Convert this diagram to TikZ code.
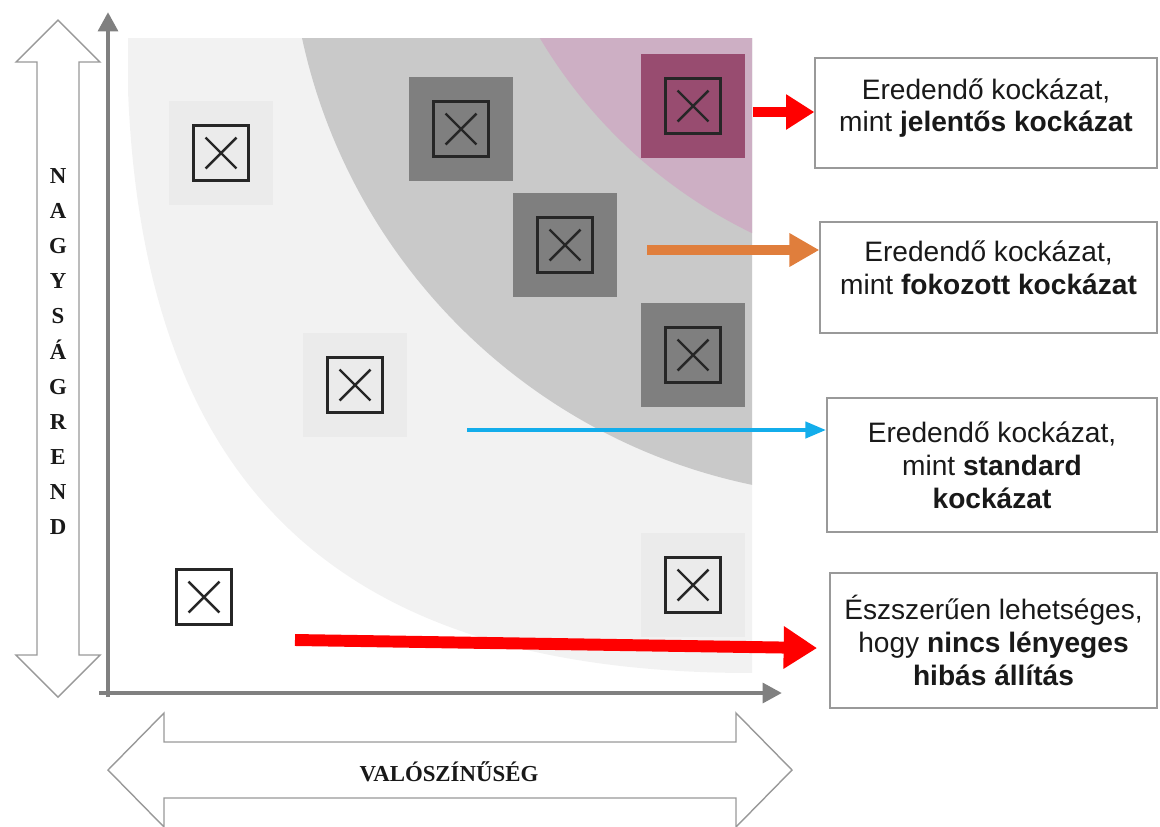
\documentclass[tikz,border=0pt]{standalone}
\usepackage{fontspec}
\setmainfont{Liberation Sans}
\newfontfamily\axisfont{Liberation Serif}
\usetikzlibrary{arrows.meta, calc, positioning}

\definecolor{zonelight}{HTML}{F2F2F2}
\definecolor{zonemid}{HTML}{C9C9C9}
\definecolor{zonepink}{HTML}{CDAFC4}
\definecolor{celllight}{HTML}{EBEBEB}
\definecolor{celldark}{HTML}{7F7F7F}
\definecolor{cellpink}{HTML}{984C70}
\definecolor{axisgray}{HTML}{808080}
\definecolor{arrowred}{HTML}{FF0000}
\definecolor{arroworange}{HTML}{E07E3C}
\definecolor{arrowblue}{HTML}{13ADEB}

\begin{document}
\begin{tikzpicture}[
    x=0.02cm, y=-0.02cm,
    cell/.style={rectangle, minimum size=2.07cm, inner sep=0pt},
    xicon/.style={rectangle, draw=black!85, line width=1.6pt, minimum size=1.1cm, inner sep=0pt,
        path picture={\draw[line width=1.4pt, black!85]
            ($(path picture bounding box.north west)!0.22!(path picture bounding box.south east)$) --
            ($(path picture bounding box.north west)!0.78!(path picture bounding box.south east)$)
            ($(path picture bounding box.north east)!0.22!(path picture bounding box.south west)$) --
            ($(path picture bounding box.north east)!0.78!(path picture bounding box.south west)$);}},
    riskbox/.style={rectangle, draw=black!40, line width=0.8pt, inner sep=0pt},
    risktext/.style={align=center, font=\fontsize{16}{18.7}\selectfont, text=black!90, inner sep=0pt},
    axisline/.style={draw=axisgray, line width=2.8pt, -{Triangle[length=11pt, width=11pt]}},
    bigarrow/.style={fill=white, draw=black!40, line width=0.8pt},
    axislabel/.style={font=\axisfont\bfseries\fontsize{13}{20}\selectfont, text=black!90, inner sep=0pt, align=center}
]

% page size
\useasboundingbox (0,0) rectangle (1160,826);

% ==================== RISK ZONES ====================
\begin{scope}
    \clip (128,38) rectangle (752,672);
    \fill[zonelight] (752,38) -- (127,38) .. controls (127,500) and (350,673) .. (752,673) -- cycle;
    \fill[zonemid] (871,-85) circle[radius=582];
    \fill[zonepink] (970,-217) circle[radius=500];
\end{scope}

% ==================== CELLS ====================
\node[cell, fill=celllight] (cellA) at (221,153) {};
\node[xicon] (iconA) at (cellA) {};
\node[cell, fill=celldark] (cellB) at (461,129) {};
\node[xicon] (iconB) at (cellB) {};
\node[cell, fill=cellpink] (cellC) at (693,106) {};
\node[xicon] (iconC) at (cellC) {};
\node[cell, fill=celldark] (cellD) at (565,245) {};
\node[xicon] (iconD) at (cellD) {};
\node[cell, fill=celldark] (cellE) at (693,355) {};
\node[xicon] (iconE) at (cellE) {};
\node[cell, fill=celllight] (cellF) at (355,385) {};
\node[xicon] (iconF) at (cellF) {};
\node[cell, fill=celllight] (cellG) at (693,585) {};
\node[xicon] (iconG) at (cellG) {};
\node[xicon] (iconH) at (204,597) {};

% ==================== AXES ====================
\draw[axisline] (108,697) -- (108,12);
\draw[axisline] (99,693) -- (782,693);

% Double arrows with axis names
\draw[bigarrow] (58,20) -- (100,62) -- (79,62) -- (79,655) -- (100,655) -- (58,697)
    -- (16,655) -- (37,655) -- (37,62) -- (16,62) -- cycle;
\node[axislabel, anchor=north] (magnitude) at (58,168) {N\\A\\G\\Y\\S\\Á\\G\\R\\E\\N\\D};

\draw[bigarrow] (108,770) -- (164,713) -- (164,742) -- (736,742) -- (736,713) -- (792,770)
    -- (736,827) -- (736,798) -- (164,798) -- (164,827) -- cycle;
\node[axislabel, anchor=base] (likelihood) at (449,781) {VALÓSZÍNŰSÉG};

% ==================== RISK BOXES ====================
\node[riskbox, minimum width=6.84cm, minimum height=2.2cm] (jelbox) at (986,113) {};
\node[risktext] (jeltext) at ([yshift=2.8pt]jelbox.center) {Eredendő kockázat,\\mint \textbf{jelentős kockázat}};

\node[riskbox, minimum width=6.74cm, minimum height=2.22cm] (fokbox) at (988.5,277.5) {};
\node[risktext] (foktext) at ([yshift=5.7pt]fokbox.center) {Eredendő kockázat,\\mint \textbf{fokozott kockázat}};

\node[riskbox, minimum width=6.6cm, minimum height=2.68cm] (stdbox) at (992,465) {};
\node[risktext] (stdtext) at (stdbox.center) {Eredendő kockázat,\\mint \textbf{standard}\\\textbf{kockázat}};

\node[riskbox, minimum width=6.54cm, minimum height=2.7cm] (nincsbox) at (993.5,640.5) {};
\node[risktext] (nincstext) at (nincsbox.center) {Észszerűen lehetséges,\\hogy \textbf{nincs lényeges}\\\textbf{hibás állítás}};

% ==================== POINTERS ====================
\coordinate (jelstart) at (753,112);
\coordinate (fokstart) at (647,250);
\coordinate (stdstart) at (467,430);
\coordinate (nincsstart) at (295,640);

\draw[arrowred, line width=5.7pt, -{Triangle[length=16pt, width=19pt]}] (jelstart) -- (jelbox.west |- jelstart);
\draw[arroworange, line width=6pt, -{Triangle[length=17pt, width=18pt]}] (fokstart) -- (fokbox.west |- fokstart);
\draw[arrowblue, line width=2.8pt, -{Triangle[length=12pt, width=9pt]}] (stdstart) -- (stdbox.west |- stdstart);
\draw[arrowred, line width=6.8pt, -{Triangle[length=19pt, width=23pt]}] (nincsstart) -- ([shift={(-7pt,-4.3pt)}]nincsbox.west);

\end{tikzpicture}
\end{document}
